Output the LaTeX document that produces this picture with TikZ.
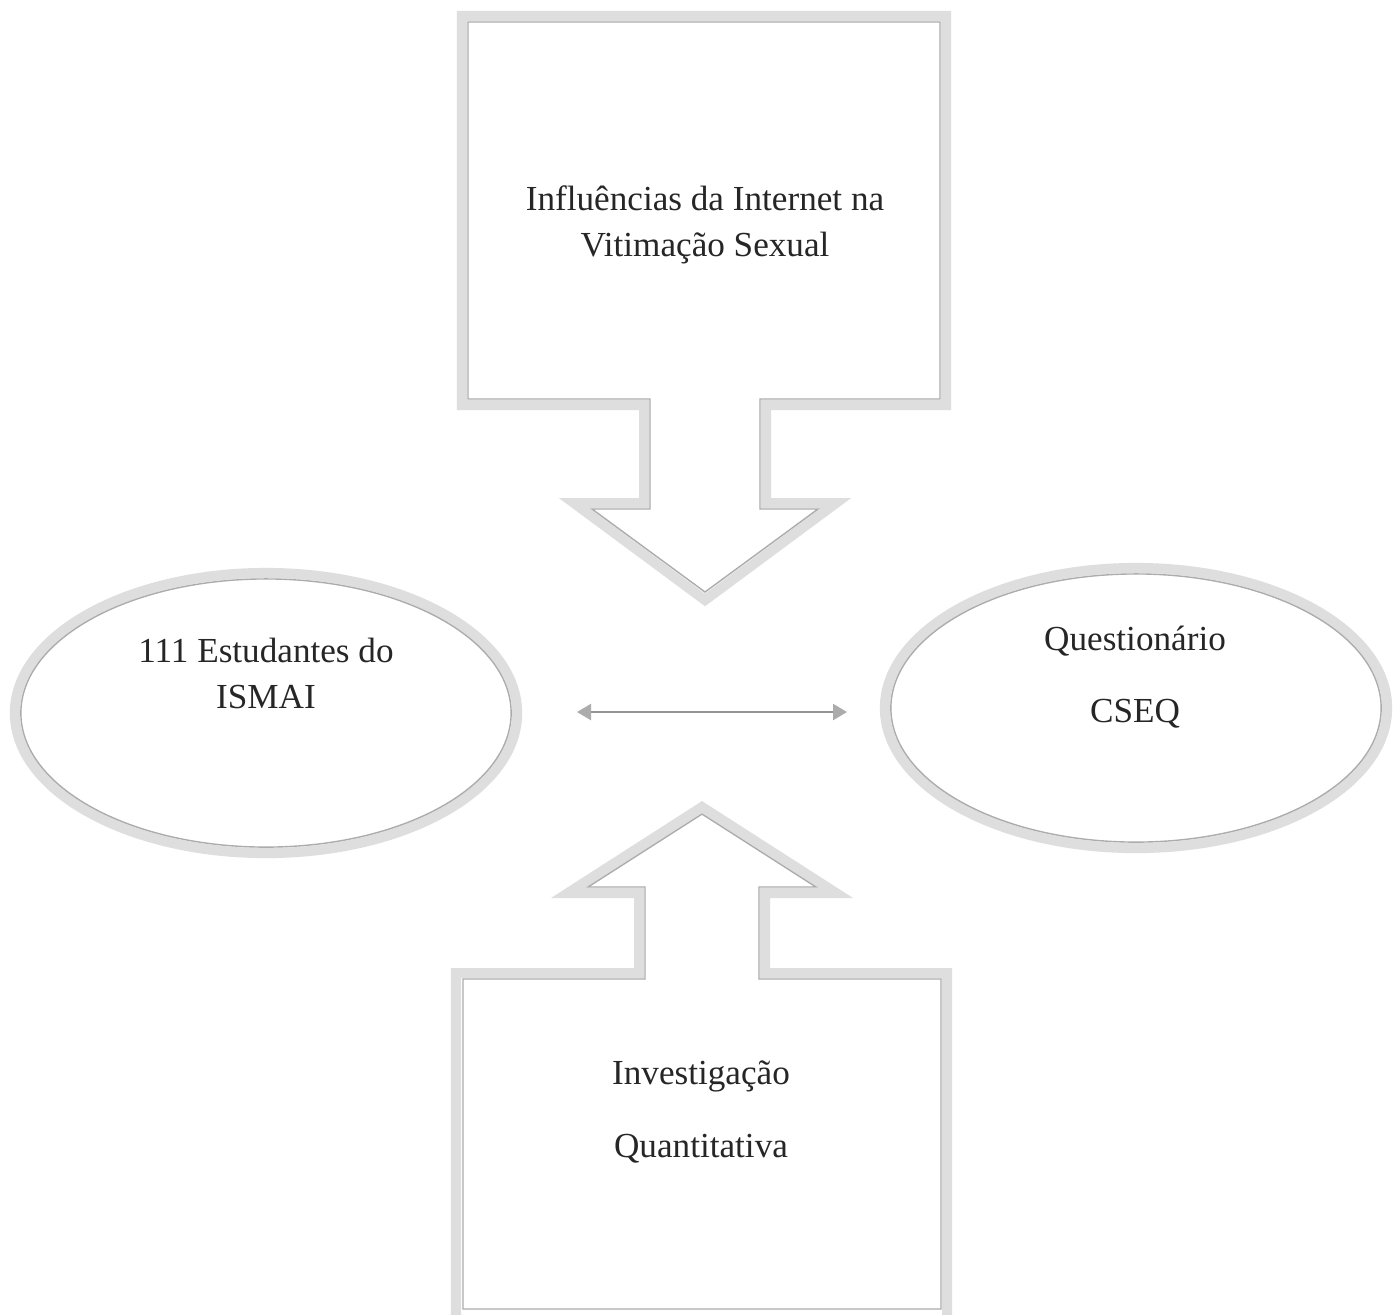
\documentclass[tikz,border=0pt]{standalone}
\usepackage{fontspec}
\setmainfont{Liberation Serif}
\usetikzlibrary{shapes.geometric,arrows.meta}
\tikzset{
  band/.style={draw=gray!26, line width=2.85pt, line join=miter},
  thinline/.style={draw=gray!65, line width=0.4pt},
  lbl/.style={align=center, inner sep=0pt, text=black!85},
  twolineA/.style={lbl, font=\fontsize{10pt}{13.1pt}\selectfont},
  twolineB/.style={lbl, font=\fontsize{10pt}{20.5pt}\selectfont},
  link/.style={draw=gray!85, line width=0.65pt,
    {Triangle[length=0.14cm,width=0.16cm,color=gray!65,fill=gray!65]}-{Triangle[length=0.14cm,width=0.16cm,color=gray!65,fill=gray!65]}}
}
\begin{document}
\begin{tikzpicture}[x=0.01cm,y=-0.01cm]
\useasboundingbox[fill=white] (0,0) rectangle (1398,1314);

% top callout (box with arrow down)
\draw[band] (462,16) -- (946,16) -- (946,405) -- (766,405) -- (766,503) -- (836,503) -- (705,600) -- (574,503) -- (644,503) -- (644,405) -- (462,405) -- cycle;
\draw[thinline] (468,22) -- (940,22) -- (940,399) -- (760,399) -- (760,509) -- (818,509) -- (705,592) -- (592,509) -- (650,509) -- (650,399) -- (468,399) -- cycle;
\node[twolineA] (top) at (705,225) {Influências da Internet na\\Vitimação Sexual};

% bottom callout (box with arrow up)
\draw[band] (456,1320) -- (456,973) -- (639,973) -- (639,893) -- (568,893) -- (702,807) -- (836,893) -- (765,893) -- (765,973) -- (947,973) -- (947,1320);
\draw[thinline] (463,1309) -- (463,979) -- (645,979) -- (645,887) -- (588,887) -- (702,814) -- (816,887) -- (759,887) -- (759,979) -- (941,979) -- (941,1309) -- cycle;
\node[twolineB] (bottom) at (701,1112) {Investigação\\Quantitativa};

% left ellipse
\draw[band] (266,713) ellipse [x radius=2.51cm, y radius=1.40cm];
\node[ellipse, thinline, minimum width=4.90cm, minimum height=2.68cm, inner sep=0pt] (left) at (266,713) {};
\node[twolineA] (lefttext) at (266,673) {111 Estudantes do\\ISMAI};

% right ellipse
\draw[band] (1136,708) ellipse [x radius=2.51cm, y radius=1.40cm];
\node[ellipse, thinline, minimum width=4.90cm, minimum height=2.68cm, inner sep=0pt] (right) at (1136,708) {};
\node[twolineB] (righttext) at (1135,677) {Questionário\\CSEQ};

% double arrow
\coordinate (la) at (577,712);
\coordinate (ra) at (847,712);
\draw[link] (la) -- (ra);
\end{tikzpicture}
\end{document}
